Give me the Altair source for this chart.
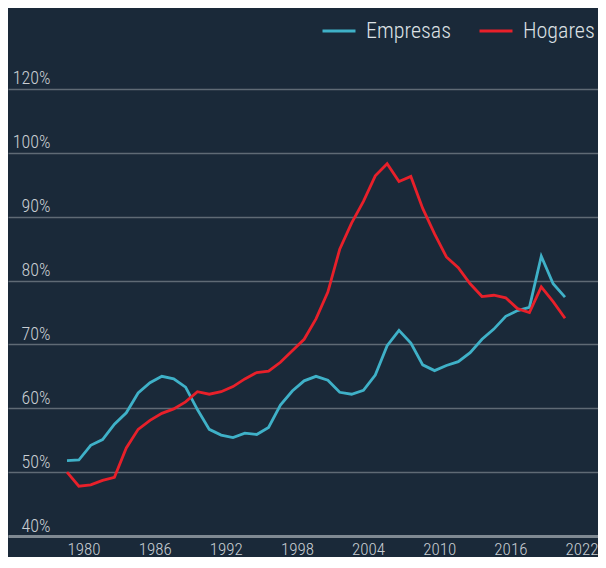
import altair as alt
import pandas as pd

years = list(range(1980, 2023))
empresas = [51.8, 51.9, 54.2, 55.1, 57.5, 59.3, 62.4, 64.0, 65.0, 64.6,
            63.3, 59.8, 56.7, 55.8, 55.4, 56.1, 55.9, 57.0, 60.5, 62.7,
            64.3, 65.0, 64.4, 62.5, 62.2, 62.8, 65.2, 69.8, 72.2, 70.2,
            66.8, 65.9, 66.7, 67.3, 68.7, 70.8, 72.4, 74.4, 75.3, 75.8,
            83.8, 79.5, 77.4]
hogares = [50.0, 47.8, 48.0, 48.7, 49.2, 53.8, 56.7, 58.1, 59.2, 59.9,
           61.0, 62.6, 62.2, 62.6, 63.4, 64.6, 65.6, 65.8, 67.2, 69.0,
           70.8, 74.0, 78.2, 84.9, 89.0, 92.4, 96.4, 98.3, 95.5, 96.3,
           91.3, 87.3, 83.7, 82.0, 79.5, 77.5, 77.7, 77.3, 75.6, 75.0,
           79.0, 76.7, 74.1]
series_names = ["Empresas", "Hogares"]
series_colors = ["#3fb1c8", "#e8202a"]
x_ticks = [1980, 1986, 1992, 1998, 2004, 2010, 2016, 2022]
y_ticks = [40, 50, 60, 70, 80, 90, 100, 110]

df = pd.DataFrame({
    "year": years * 2,
    "value": empresas + hogares,
    "serie": [series_names[0]] * len(years) + [series_names[1]] * len(years),
})

FONT = "'Roboto Condensed', 'Liberation Sans Narrow', 'DejaVu Sans Condensed', 'Roboto', sans-serif"

chart = alt.Chart(df).mark_line(strokeWidth=2.8, strokeJoin="miter").encode(
    x=alt.X("year:Q",
            scale=alt.Scale(domain=[1975.024, 2024.784], nice=False, zero=False),
            axis=alt.Axis(values=x_ticks, format="d", title=None, grid=False,
                          ticks=False, domain=True, domainColor="#7f8992",
                          domainWidth=3, labelAlign="left",
                          labelBaseline="alphabetic",
                          labelPadding=18, labelFont=FONT, labelFontSize=17,
                          labelFontWeight=300,
                          labelColor="#c9ced3", labelFlush=False,
                          labelOverlap=False)),
    y=alt.Y("value:Q",
            scale=alt.Scale(domain=[40, 122.68], nice=False, zero=False),
            axis=alt.Axis(values=y_ticks, title=None, grid=True,
                          gridColor="#5f6a75", gridWidth=1.5, ticks=False,
                          domain=False, labelAlign="right",
                          labelBaseline="alphabetic", labelPadding=-42,
                          labelOffset=-5, labelFont=FONT, labelFontSize=18,
                          labelFontWeight=300,
                          labelColor="#c9ced3", labelOverlap=False,
                          labelExpr="datum.value == 110 ? '120%' : datum.value + '%'")),
    color=alt.Color("serie:N",
                    scale=alt.Scale(domain=series_names, range=series_colors),
                    legend=alt.Legend(title=None, orient="none", legendX=313,
                                      legendY=5, direction="horizontal",
                                      symbolType="stroke", symbolSize=1089,
                                      symbolStrokeWidth=3, labelOffset=9,
                                      columnPadding=22, padding=0,
                                      labelFont=FONT, labelFontSize=22,
                                      labelFontWeight=300,
                                      labelColor="#dde1e5")),
).properties(
    width=590,
    height=528,
    background="#1a2939",
    autosize=alt.AutoSizeParams(type="none"),
    padding={"left": 0, "top": 0, "right": 0, "bottom": 21},
).configure_view(stroke=None)

chart.save("out.html", embed_options={"renderer": "svg", "actions": False})
